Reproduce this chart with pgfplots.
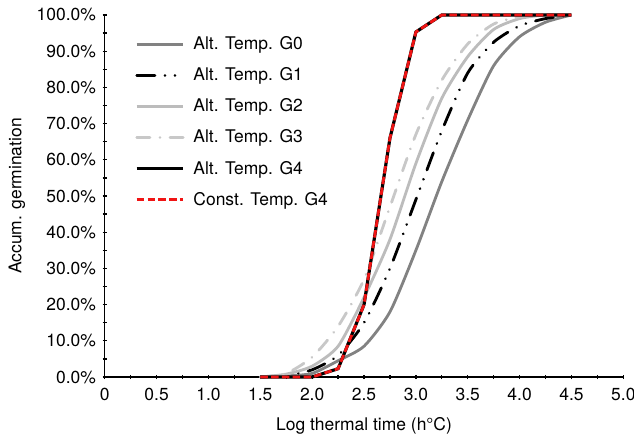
\documentclass[border=0pt]{standalone}
\usepackage{fontspec}
\setmainfont{TeX Gyre Heros}
\usepackage{pgfplots}
\pgfplotsset{compat=1.18}
\definecolor{gzero}{RGB}{130,130,130}
\definecolor{gtwo}{RGB}{188,188,188}
\definecolor{gthree}{RGB}{200,200,200}
\definecolor{cred}{RGB}{240,20,20}
\begin{document}
\begin{tikzpicture}
\begin{axis}[
  scale only axis, width=312pt, height=217.8pt,
  at={(0,0)}, anchor=south west,
  xmin=0, xmax=5, ymin=0, ymax=100,
  clip=false,
  axis lines=left,
  axis line style={-, line width=0.8pt},
  every tick/.style={black, line width=0.8pt},
  major tick length=2.6pt, minor tick length=2.6pt,
  xtick={0,0.5,1,1.5,2,2.5,3,3.5,4,4.5,5},
  xticklabels={0,0.5,1.0,1.5,2.0,2.5,3.0,3.5,4.0,4.5,5.0},
  minor xtick={0.25,0.75,1.25,1.75,2.25,2.75,3.25,3.75,4.25,4.75},
  ytick={0,10,20,30,40,50,60,70,80,90,100},
  yticklabels={0.0\%,10.0\%,20.0\%,30.0\%,40.0\%,50.0\%,60.0\%,70.0\%,80.0\%,90.0\%,100.0\%},
  minor ytick={5,15,25,35,45,55,65,75,85,95},
  ticklabel style={font=\fontsize{10.5}{12}\selectfont},
  xticklabel style={yshift=-2pt},
  yticklabel style={xshift=-0.5pt},
  xlabel={Log thermal time (h°C)},
  ylabel={Accum. germination},
  label style={font=\fontsize{10.5}{12}\selectfont},
  xlabel style={yshift=-3pt},
  legend cell align=left,
  legend image code/.code={\draw[#1] (0pt,0pt) -- (28pt,0pt);},
  legend style={draw=none, fill=none, at={(0.058,0.951)}, anchor=north west,
    font=\fontsize{10.5}{12}\selectfont, row sep=5.4pt, inner sep=0pt,
    nodes={inner xsep=5.2pt}},
]
\addplot[gzero, line width=1.7pt, smooth, tension=0.4] coordinates {
(1.5,0)(1.75,0.3)(2.0,1)(2.25,4.5)(2.5,8.5)(2.75,18)(3.0,35)(3.25,54)(3.5,71)(3.75,86)(4.0,94)(4.25,98)(4.5,100)};
\addlegendentry{Alt. Temp. G0}
\addplot[black, line width=1.7pt, line cap=round, dash pattern=on 11pt off 6pt on 0.01pt off 6pt on 0.01pt off 6pt, smooth, tension=0.4] coordinates {
(1.5,0)(1.75,0.5)(2.0,2)(2.25,6)(2.5,15)(2.75,30)(3.0,49)(3.25,68)(3.5,84)(3.75,92.5)(4.0,97)(4.25,99)(4.5,100)};
\addlegendentry{Alt. Temp. G1}
\addplot[gtwo, line width=1.7pt, smooth, tension=0.4] coordinates {
(1.5,0)(1.75,0.8)(2.0,3)(2.25,8.5)(2.5,22)(2.75,38)(3.0,59)(3.25,77)(3.5,88.5)(3.75,96)(4.0,99)(4.25,100)(4.5,100)};
\addlegendentry{Alt. Temp. G2}
\addplot[gthree, line width=1.7pt, line cap=round, dash pattern=on 8pt off 6pt on 0.01pt off 6pt, smooth, tension=0.4] coordinates {
(1.5,0)(1.75,1)(2.0,5.5)(2.25,14)(2.5,27)(2.75,47)(3.0,67)(3.25,82)(3.5,92)(3.75,97.5)(4.0,99.5)(4.25,100)(4.5,100)};
\addlegendentry{Alt. Temp. G3}
\addplot[black, line width=1.9pt] coordinates {
(1.5,0)(1.75,0)(2.0,0)(2.25,2.3)(2.5,20)(2.75,66)(3.0,95.3)(3.25,100)(3.5,100)(3.75,100)(4.0,100)(4.25,100)(4.5,100)};
\addlegendentry{Alt. Temp. G4}
\addplot[cred, line width=1.7pt, dash pattern=on 4.5pt off 2pt] coordinates {
(1.5,0)(1.75,0)(2.0,0)(2.25,2.3)(2.5,20)(2.75,66)(3.0,95.3)(3.25,100)(3.5,100)(3.75,100)(4.0,100)(4.25,100)(4.5,100)};
\addlegendentry{Const. Temp. G4}
\end{axis}
\pgfresetboundingbox
\path[use as bounding box] (-63pt,-36.6pt) rectangle (318.4pt,226.8pt);
\end{tikzpicture}
\end{document}
